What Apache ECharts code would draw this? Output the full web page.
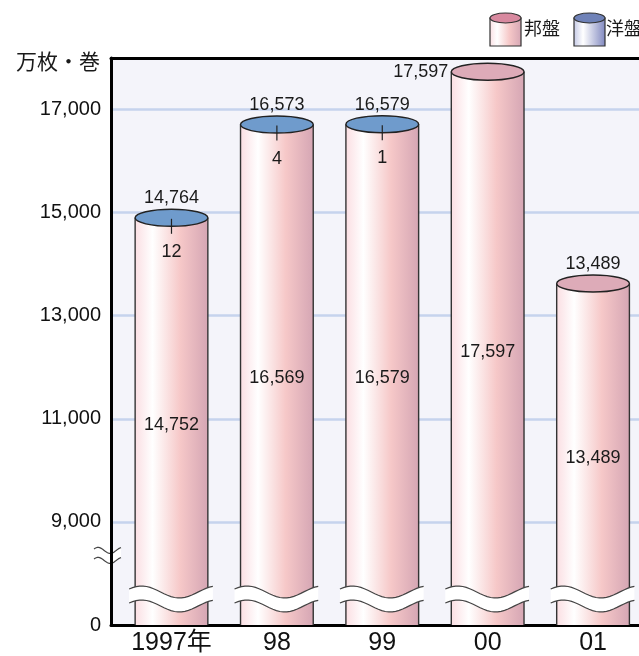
<!DOCTYPE html>
<html>
<head>
<meta charset="utf-8">
<script src="https://cdn.jsdelivr.net/npm/echarts@6/dist/echarts.min.js"></script>
<style>
  html, body { margin: 0; padding: 0; background: #fff; }
  #chart { width: 639px; height: 656px; }
</style>
</head>
<body>
<div id="chart"></div>
<script>
const years = ['1997年', '98', '99', '00', '01'];
const domestic = [14752, 16569, 16579, 17597, 13489]; // 邦盤
const foreign = [12, 4, 1, 0, 0]; // 洋盤
const totals = [14764, 16573, 16579, 17597, 13489];
const yTicks = [7000, 9000, 11000, 13000, 15000, 17000];
const yTickLabels = ['0', '9,000', '11,000', '13,000', '15,000', '17,000'];

const BASE = 7000; // drawn as 0 (broken axis)
const FONT = "'Liberation Sans', 'Noto Sans CJK JP', sans-serif";
const fmt = (v) => v.toLocaleString('en-US');

const bodyStops = [
  { offset: 0, color: '#fbdfe3' },
  { offset: 0.24, color: '#ffffff' },
  { offset: 0.62, color: '#f6c8c8' },
  { offset: 1, color: '#d5a6b4' },
];
const blueStops = [
  { offset: 0, color: '#c3c8e6' },
  { offset: 0.3, color: '#ffffff' },
  { offset: 1, color: '#7f87bf' },
];

function wave(x0, x1, yc, amp) {
  const pts = [];
  for (let k = 0; k <= 24; k++) {
    const u = k / 24;
    pts.push([x0 + (x1 - x0) * u, yc - amp * Math.cos(2 * Math.PI * (u - 0.15) / 0.9)]);
  }
  return pts;
}

function breakStrip(x0, x1, yTop, thick, amp) {
  const top = wave(x0, x1, yTop, amp);
  const bottom = wave(x0, x1, yTop + thick, amp);
  return [
    { type: 'polygon', shape: { points: top.concat(bottom.slice().reverse()) }, style: { fill: '#fff', stroke: 'none' } },
    { type: 'polyline', shape: { points: top }, style: { stroke: '#444', lineWidth: 1.2, fill: 'none' } },
    { type: 'polyline', shape: { points: bottom }, style: { stroke: '#444', lineWidth: 1.2, fill: 'none' } },
  ];
}

function txt(text, x, y, align, size) {
  return {
    type: 'text',
    style: { text, x, y, align, verticalAlign: 'middle', fill: '#1a1a1a', fontSize: size, fontFamily: FONT },
  };
}

function renderCylinder(params, api) {
  const i = api.value(0);
  const dom = api.value(1);
  const fgn = api.value(2);
  const total = api.value(3);
  const topPt = api.coord([i, dom + fgn]);
  const basePt = api.coord([i, BASE]);
  const gridTop = api.coord([i, 18000])[1];
  const w = api.size([1, 0])[0] * 0.69;
  const rx = w / 2, ry = 8.5;
  const cx = topPt[0], cy = topPt[1] - 7;
  const x0 = cx - rx, x1 = cx + rx;

  const children = [
    { type: 'rect', shape: { x: x0, y: cy, width: w, height: basePt[1] - cy },
      style: { fill: new echarts.graphic.LinearGradient(0, 0, 1, 0, bodyStops) } },
    { type: 'line', shape: { x1: x0, y1: cy, x2: x0, y2: basePt[1] }, style: { stroke: '#333', lineWidth: 1.4 } },
    { type: 'line', shape: { x1: x1, y1: cy, x2: x1, y2: basePt[1] }, style: { stroke: '#333', lineWidth: 1.4 } },
    { type: 'ellipse', shape: { cx, cy, rx, ry },
      style: { fill: fgn > 0 ? '#6f9bcc' : '#ddabb8', stroke: '#222', lineWidth: 1.4 } },
  ];

  children.push(...breakStrip(x0 - 6, x1 + 5, basePt[1] - 33, 14, 6));

  // total label
  const ly = cy - ry - 11;
  if (ly - 9 < gridTop) {
    children.push(txt(fmt(total), x0 - 3, cy, 'right', 18));
  } else {
    children.push(txt(fmt(total), cx, ly, 'center', 18));
  }

  // 洋盤 label under the cap
  if (fgn > 0) {
    children.push({ type: 'line', shape: { x1: cx, y1: cy + 1, x2: cx, y2: cy + 16 }, style: { stroke: '#222', lineWidth: 1.2 } });
    children.push(txt(fmt(fgn), cx, cy + 34, 'center', 18));
  }

  // 邦盤 label inside the body
  const midY = api.coord([i, (dom + BASE) / 2])[1];
  children.push(txt(fmt(dom), cx, midY, 'center', 18));

  return { type: 'group', children };
}

function legendIcon(x, y, stops, cap) {
  return {
    type: 'group', x, y, z: 10,
    children: [
      { type: 'rect', shape: { x: 0, y: 5, width: 31, height: 28 },
        style: { fill: new echarts.graphic.LinearGradient(0, 0, 1, 0, stops), stroke: '#333', lineWidth: 1.2 } },
      { type: 'ellipse', shape: { cx: 15.5, cy: 5, rx: 15.5, ry: 5 },
        style: { fill: cap, stroke: '#333', lineWidth: 1.2 } },
    ],
  };
}

const chart = echarts.init(document.getElementById('chart'));

const xRange = { min: -0.574, max: 4.436 };

chart.setOption({
  animation: false,
  textStyle: { fontFamily: FONT },
  grid: {
    left: 111, right: 0, top: 58, bottom: 31,
    show: true, backgroundColor: '#f4f4fa', borderWidth: 0,
  },
  xAxis: [
    {
      type: 'value', ...xRange,
      axisLine: { show: true, onZero: false, lineStyle: { color: '#000', width: 3 } },
      axisTick: { show: false },
      splitLine: { show: false },
      axisLabel: {
        fontSize: 25, color: '#111', margin: 6,
        showMinLabel: false, showMaxLabel: false,
        formatter: (v) => (Number.isInteger(v) && years[v] !== undefined ? years[v] : ''),
      },
    },
    {
      type: 'value', position: 'top', ...xRange,
      axisLine: { show: true, onZero: false, lineStyle: { color: '#000', width: 3 } },
      axisTick: { show: false },
      axisLabel: { show: false },
      splitLine: { show: false },
    },
  ],
  yAxis: {
    type: 'value', min: BASE, max: 18000, interval: 2000,
    axisLine: { show: true, onZero: false, lineStyle: { color: '#000', width: 3 } },
    axisTick: { show: false },
    axisLabel: {
      fontSize: 20, color: '#111', margin: 10, showMaxLabel: false,
      formatter: (v) => {
        const k = yTicks.indexOf(v);
        return k >= 0 ? yTickLabels[k] : '';
      },
    },
    splitLine: { lineStyle: { color: '#c6d3ed', width: 2.5 } },
  },
  series: [
    {
      name: '邦盤',
      type: 'custom',
      renderItem: renderCylinder,
      encode: { x: 0, y: 1 },
      data: years.map((_, i) => [i, domestic[i], foreign[i], totals[i]]),
      z: 5,
    },
  ],
});

// axis break mark, y-axis title and legend
const axisX = chart.convertToPixel({ xAxisIndex: 0 }, xRange.min);
const breakY = chart.convertToPixel({ yAxisIndex: 0 }, 8350);

chart.setOption({
  graphic: [
    { type: 'group', z: 10, children: breakStrip(axisX - 17, axisX + 10, breakY - 5, 10, 3) },
    { type: 'text', z: 10, style: { text: '万枚・巻', x: 100, y: 63, align: 'right', verticalAlign: 'middle',
      fill: '#1a1a1a', fontSize: 21, fontFamily: FONT } },
    legendIcon(490, 13, bodyStops, '#d8899f'),
    { type: 'text', z: 10, style: { text: '邦盤', x: 524, y: 30, align: 'left', verticalAlign: 'middle',
      fill: '#1a1a1a', fontSize: 18, fontFamily: FONT } },
    legendIcon(574, 13, blueStops, '#6f82b8'),
    { type: 'text', z: 10, style: { text: '洋盤', x: 606, y: 30, align: 'left', verticalAlign: 'middle',
      fill: '#1a1a1a', fontSize: 18, fontFamily: FONT } },
  ],
});

window.addEventListener('resize', () => chart.resize());
</script>
</body>
</html>
